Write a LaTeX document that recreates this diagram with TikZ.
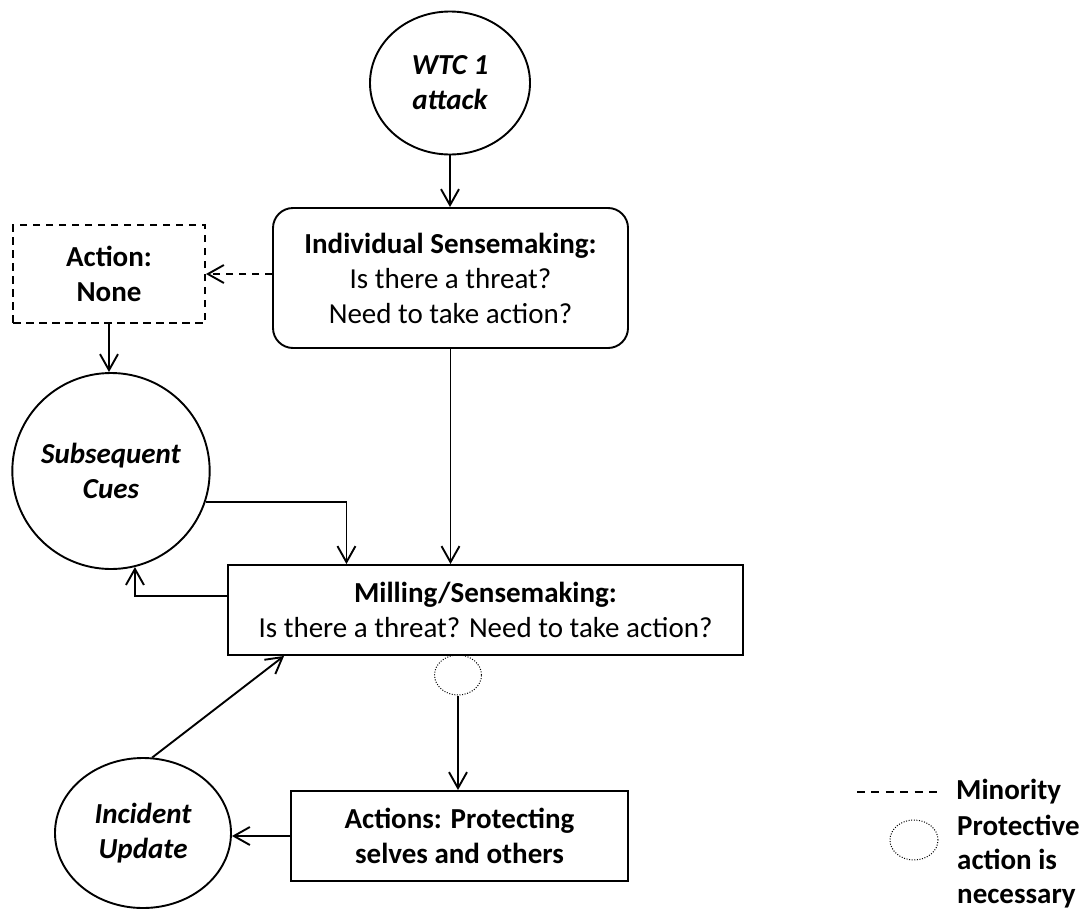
\documentclass[tikz,border=0pt]{standalone}
\usepackage{fontspec}
\setmainfont{Carlito}
\usetikzlibrary{arrows.meta,shapes.geometric,calc}
\begin{document}
\begin{tikzpicture}[x=1pt,y=-1pt,
  every node/.style={font=\fontsize{29}{35}\selectfont, align=center, inner sep=0pt},
  ln/.style={line width=1.9pt},
  arr/.style={ln, -{Straight Barb[length=16pt,width=18pt]}},
  dsh/.style={dash pattern=on 7.5pt off 5.5pt},
  lgdsh/.style={dash pattern=on 8pt off 6.4pt},
  dotc/.style={draw, ellipse, line width=1pt, dash pattern=on 1pt off 1.6pt},
  boxr/.style={draw, ln, rectangle},
  circ/.style={draw, ln, ellipse, font=\fontsize{29}{35}\selectfont\bfseries\itshape}]
\useasboundingbox (0,0) rectangle (1086,918);

\node[circ, minimum width=160pt, minimum height=143pt] (wtc) at (450,83) {WTC 1\\attack};
\node[boxr, rounded corners=20pt, minimum width=355pt, minimum height=140pt] (ind) at (450.5,278)
  {\textbf{Individual Sensemaking:}\\Is there a threat?\\Need to take action?};
\node[boxr, dsh, minimum width=192pt, minimum height=98pt] (none) at (109,274)
  {\textbf{Action:}\\\textbf{None}};
\node[circ, minimum width=196pt, minimum height=196pt] (sub) at (111,471) {Subsequent\\Cues};
\node[boxr, minimum width=515pt, minimum height=90pt] (mill) at (485.5,610)
  {\textbf{Milling/Sensemaking:}\\Is there a threat? Need to take action?};
\node[dotc, minimum width=47pt, minimum height=40pt] (dot) at (458,675) {};
\node[boxr, minimum width=337pt, minimum height=90pt] (act) at (459.5,836)
  {\textbf{Actions: Protecting}\\\textbf{selves and others}};
\node[circ, minimum width=176pt, minimum height=150pt] (inc) at (143,833) {Incident\\Update};

% connectors
\draw[arr] (wtc.south) -- (wtc.south |- ind.north);
\draw[arr, dsh] (ind.west |- none.east) -- (none.east);
\draw[arr] (none.south) -- (none.south |- sub.north);
\draw[arr] (sub.-18) -| ($(mill.north west)!0.231!(mill.north east)$);
\draw[arr] (ind.south) -- (ind.south |- mill.north);
\draw[arr] ([yshift=14pt]mill.west) -| (sub.-76);
\draw[arr] (dot.south) -- (dot.south |- act.north);
\draw[arr] (act.west) -- (act.west -| inc.east);
\draw[arr] (inc.83) -- ($(mill.south west)+(57,0)$);

% legend
\coordinate (lga) at (857,792);
\coordinate (lgb) at (937,792);
\draw[ln, lgdsh] (lga) -- (lgb);
\node[anchor=west, font=\fontsize{29}{35}\selectfont\bfseries] (lmin) at (956,792) {Minority};
\node[dotc, minimum width=48pt, minimum height=40pt] (ldot) at (914,840) {};
\node[anchor=west, align=left, font=\fontsize{29}{34}\selectfont\bfseries] (lprot) at (957,862)
  {Protective\\action is\\necessary};
\end{tikzpicture}
\end{document}
